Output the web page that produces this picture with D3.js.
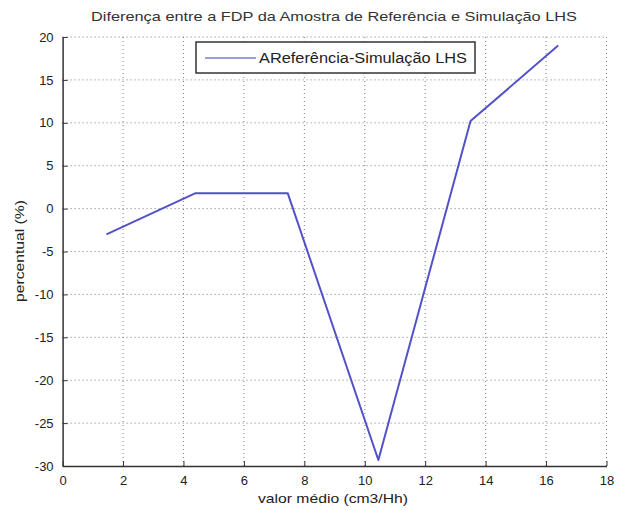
<!DOCTYPE html>
<html>
<head>
<meta charset="utf-8">
<script src="https://cdn.jsdelivr.net/npm/d3@7"></script>
<style>
  html, body { margin: 0; padding: 0; background: #ffffff; }
  svg { display: block; font-family: "Liberation Sans", Arial, sans-serif; }
</style>
</head>
<body>
<svg id="chart" width="617" height="510"></svg>
<script>
// Difference between reference sample PDF and LHS simulation
const xValues = [1.45, 4.4, 7.45, 10.45, 13.5, 16.4];
const yValues = [-3, 1.8, 1.8, -29.3, 10.2, 19];
const xTicks = [0, 2, 4, 6, 8, 10, 12, 14, 16, 18];
const yTicks = [20, 15, 10, 5, 0, -5, -10, -15, -20, -25, -30];
const seriesName = "AReferência-Simulação LHS";
const titleText = "Diferença entre a FDP da Amostra de Referência e Simulação LHS";
const xLabel = "valor médio (cm3/Hh)";
const yLabel = "percentual (%)";

const svg = d3.select("#chart");
const m = { left: 62.6, right: 606.5, top: 37, bottom: 466 };

const x = d3.scaleLinear().domain([0, 18]).range([m.left, m.right]);
const y = d3.scaleLinear().domain([-30, 20]).range([m.bottom, m.top]);

const axisColor = "#333333";
const gridColor = "#555555";
const fmt = d => String(d);

// dotted grid
const grid = svg.append("g");
grid.selectAll(".gx").data(xTicks.filter(d => d > 0)).join("line")
  .attr("x1", d => x(d)).attr("x2", d => x(d))
  .attr("y1", m.top).attr("y2", m.bottom)
  .attr("stroke", gridColor).attr("stroke-width", 1)
  .attr("stroke-dasharray", "1,3").attr("opacity", 0.75);
grid.selectAll(".gy").data(yTicks.filter(d => d > -30)).join("line")
  .attr("x1", m.left).attr("x2", m.right)
  .attr("y1", d => y(d)).attr("y2", d => y(d))
  .attr("stroke", gridColor).attr("stroke-width", 1)
  .attr("stroke-dasharray", "1,3").attr("opacity", 0.75);

// axes with inward ticks
const xAxis = d3.axisBottom(x).tickValues(xTicks).tickSizeInner(-5).tickSizeOuter(0)
  .tickPadding(10).tickFormat(fmt);
const gx = svg.append("g").attr("transform", `translate(0,${m.bottom})`).call(xAxis);
gx.select(".domain").attr("stroke", axisColor).attr("stroke-width", 1.5);
gx.selectAll(".tick line").attr("stroke", axisColor);
gx.selectAll(".tick text").attr("fill", "#222").style("font-size", "13px");

const yAxis = d3.axisLeft(y).tickValues(yTicks).tickSizeInner(-5).tickSizeOuter(0)
  .tickPadding(9).tickFormat(fmt);
const gy = svg.append("g").attr("transform", `translate(${m.left},0)`).call(yAxis);
gy.select(".domain").attr("stroke", axisColor).attr("stroke-width", 1.5);
gy.selectAll(".tick line").attr("stroke", axisColor);
gy.selectAll(".tick text").attr("fill", "#222").style("font-size", "13px");

// data line
const data = xValues.map((v, i) => ({ x: v, y: yValues[i] }));
const line = d3.line().x(d => x(d.x)).y(d => y(d.y));
svg.append("path").datum(data)
  .attr("d", line)
  .attr("fill", "none")
  .attr("stroke", "#5252c8")
  .attr("stroke-width", 2)
  .attr("stroke-linejoin", "round");

// legend
const lg = svg.append("g");
lg.append("rect").attr("x", 196).attr("y", 42).attr("width", 279).attr("height", 31)
  .attr("fill", "#ffffff").attr("stroke", "#333").attr("stroke-width", 1.5);
lg.append("line").attr("x1", 205).attr("x2", 256).attr("y1", 58).attr("y2", 58)
  .attr("stroke", "#9c9ce0").attr("stroke-width", 2);
lg.append("text").attr("x", 259).attr("y", 63).text(seriesName)
  .attr("fill", "#222").style("font-size", "14px")
  .attr("textLength", 208).attr("lengthAdjust", "spacingAndGlyphs");

// title and axis labels
svg.append("text").attr("x", 334).attr("y", 21).attr("text-anchor", "middle")
  .text(titleText).attr("fill", "#333").style("font-size", "13px")
  .attr("textLength", 486).attr("lengthAdjust", "spacingAndGlyphs");
svg.append("text").attr("x", 333).attr("y", 503).attr("text-anchor", "middle")
  .text(xLabel).attr("fill", "#222").style("font-size", "13px")
  .attr("textLength", 150).attr("lengthAdjust", "spacingAndGlyphs");
svg.append("text").attr("transform", "translate(24,251) rotate(-90)")
  .attr("text-anchor", "middle").text(yLabel).attr("fill", "#222").style("font-size", "13px")
  .attr("textLength", 102).attr("lengthAdjust", "spacingAndGlyphs");
</script>
</body>
</html>
